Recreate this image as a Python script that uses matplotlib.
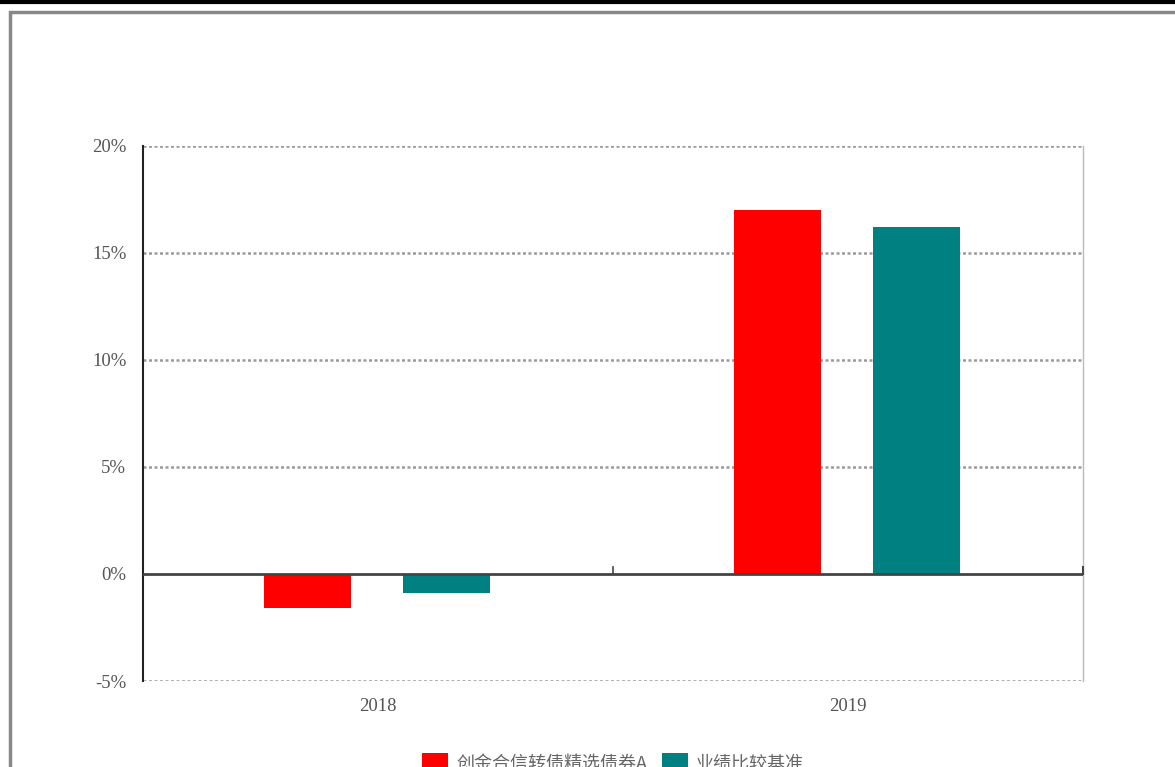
import matplotlib
matplotlib.use("Agg")
import matplotlib.pyplot as plt
from matplotlib.patches import Rectangle
from matplotlib.lines import Line2D
import numpy as np

# data (annual returns, %)
years = ["2018", "2019"]
fund = [-1.59, 17.02]
bench = [-0.89, 16.22]
series_names = ["创金合信转债精选债券A", "业绩比较基准"]
colors = ["#ff0000", "#008080"]
yticks = [-5, 0, 5, 10, 15, 20]

plt.rcParams['font.family'] = ['Liberation Serif', 'Noto Sans CJK SC', 'DejaVu Sans']

fig = plt.figure(figsize=(11.75, 7.67), dpi=100)
ax = fig.add_axes([143/1175, 1-681/767, 940/1175, 535/767])

x = np.arange(len(years))
w = 0.185
ax.bar(x - 0.15, fund, w, color=colors[0], label=series_names[0], zorder=3)
ax.bar(x + 0.146, bench, w, color=colors[1], label=series_names[1], zorder=3)

ax.set_xlim(-0.5, len(years) - 0.5)
ax.set_ylim(-5, 20)
ax.set_yticks(yticks)
ax.set_yticklabels([f"{t}%" for t in yticks])
ax.set_xticks(x)
ax.set_xticklabels(years)
ax.tick_params(axis='both', length=0, labelsize=13.5, labelcolor='#555555')
ax.tick_params(axis='y', pad=12)
ax.tick_params(axis='x', pad=12)

# dotted grid
for t in yticks:
    if t != 0:
        ax.axhline(t, color='#9a9a9a', lw=1.8, ls=(0, (1.2, 1.0)), zorder=1)
ax.axhline(0, color='#444444', lw=2, zorder=4)
# small category separators on the zero line
for b in x[:-1] + 0.5:
    ax.plot([b, b], [0, 0.35], color='#444444', lw=1.2, zorder=4)
ax.plot([x[-1] + 0.5] * 2, [0, 0.35], color='#444444', lw=1.5, zorder=4, clip_on=False)

ax.spines['top'].set_visible(False)
ax.spines['bottom'].set_visible(False)
ax.spines['left'].set_color('#222222')
ax.spines['left'].set_linewidth(1.5)
ax.spines['right'].set_color('#bbbbbb')
ax.spines['right'].set_linewidth(1)

# page frame
fig.add_artist(Rectangle((10/1175, -0.2), 1.5, 1 - 12/767 + 0.2, transform=fig.transFigure,
                         fill=False, edgecolor='#888888', lw=2.5))
fig.add_artist(Line2D([0, 1], [1 - 1.5/767, 1 - 1.5/767], transform=fig.transFigure,
                      color='black', lw=3))

fig.legend(loc='center', bbox_to_anchor=(613/1175, 1 - 763/767), ncol=2, frameon=False,
           handlelength=1.45, handleheight=1.2, columnspacing=0.8,
           handletextpad=0.45, labelcolor='#666666',
           prop={'family': ['Noto Sans CJK SC', 'DejaVu Sans'], 'size': 13})

fig.savefig("out.png", dpi=100)
